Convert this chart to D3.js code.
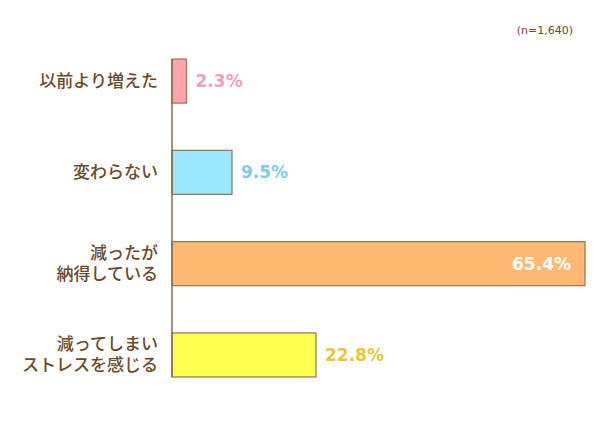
<!DOCTYPE html>
<html><head><meta charset="utf-8">
<script src="https://cdn.jsdelivr.net/npm/d3@7"></script>
<style>body{margin:0;background:#fff}svg{display:block}</style>
</head><body>
<script>
const categories = [["以前より増えた"], ["変わらない"], ["減ったが", "納得している"], ["減ってしまい", "ストレスを感じる"]];
const values = [2.3, 9.5, 65.4, 22.8];
const fills = ["#ffa3ad", "#9ae8fd", "#ffb973", "#ffff4f"];
const labelColors = ["#f1a1b6", "#7fcde6", "#ffffff", "#e9c53a"];
const note = "(n=1,640)";

const W = 600, H = 434;
const svg = d3.select("body").append("svg").attr("width", W).attr("height", H);
const x = d3.scaleLinear().domain([0, 65.4]).range([172, 585]);
const y = d3.scaleBand().domain(d3.range(values.length)).range([13.4, 422.6]).paddingInner(0.518).paddingOuter(0.5);
const brown = "#6b4a2b";
const jp = "'Noto Sans CJK JP', 'Noto Sans', sans-serif";

svg.append("text").attr("x", 573).attr("y", 34).attr("text-anchor", "end")
  .attr("font-family", "'DejaVu Sans', sans-serif").attr("font-size", 11).attr("fill", brown).text(note);

// bars
svg.selectAll("rect.bar").data(values).join("rect").attr("class", "bar")
  .attr("x", x(0)).attr("y", (d, i) => y(i))
  .attr("width", d => x(d) - x(0)).attr("height", y.bandwidth())
  .attr("fill", (d, i) => fills[i]).attr("stroke", "#9c7b5b").attr("stroke-width", 1.3);

// axis line
svg.append("line").attr("x1", x(0)).attr("x2", x(0))
  .attr("y1", y(0)).attr("y2", y(values.length - 1) + y.bandwidth())
  .attr("stroke", "#8a6a4c").attr("stroke-width", 1.5);

// category labels
categories.forEach((lines, i) => {
  const cy = y(i) + y.bandwidth() / 2;
  const lh = 21;
  const t = svg.append("text").attr("text-anchor", "end")
    .attr("font-family", jp).attr("font-weight", 500).attr("font-size", 17).attr("fill", brown);
  lines.forEach((l, j) => {
    t.append("tspan").attr("x", 158)
      .attr("y", cy + (j - (lines.length - 1) / 2) * lh)
      .attr("dy", "0.35em").text(l);
  });
});

// value labels
svg.selectAll("text.val").data(values).join("text").attr("class", "val")
  .attr("x", (d, i) => i === 2 ? x(d) - 14 : x(d) + 9)
  .attr("y", (d, i) => y(i) + y.bandwidth() / 2)
  .attr("dy", "0.36em")
  .attr("text-anchor", (d, i) => i === 2 ? "end" : "start")
  .attr("font-family", "'DejaVu Sans', sans-serif").attr("font-weight", 700).attr("font-size", 17)
  .attr("fill", (d, i) => labelColors[i]).text(d => d.toFixed(1) + "%");
</script>
</body></html>
